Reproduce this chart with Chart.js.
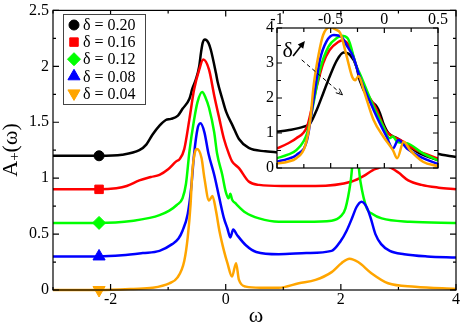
<!DOCTYPE html>
<html>
<head>
<meta charset="utf-8">
<script src="https://cdn.jsdelivr.net/npm/chart.js@4"></script>
<style>
body { margin: 0; background: #fff; }
#wrap { position: relative; width: 463px; height: 324px; }
#main { position: absolute; left: 0; top: 0; z-index: 1; }
#inset { position: absolute; left: 245px; top: 0; z-index: 2; }
</style>
</head>
<body>
<div id="wrap">
<canvas id="main" width="463" height="324"></canvas>
<canvas id="inset" width="218" height="180"></canvas>
</div>
<script>
// series labels (delta values)
const deltaLabels = ['δ = 0.20', 'δ = 0.16', 'δ = 0.12', 'δ = 0.08', 'δ = 0.04'];

// main panel, curves shifted by 0.3 each
const blackW = [-3, -2.2, -1.8, -1.5, -1.38, -1.27, -1.15, -1.04, -0.95, -0.83, -0.75, -0.63, -0.58, -0.52, -0.46, -0.43, -0.4, -0.36, -0.3, -0.26, -0.17, -0.14, -0.06, 0.01, 0.12, 0.23, 0.4, 0.69, 0.92, 1.5, 2.3, 2.8, 3.2, 3.66, 4];
const blackA = [1.2, 1.2, 1.21, 1.25, 1.30, 1.39, 1.47, 1.52, 1.53, 1.56, 1.62, 1.71, 1.8, 1.88, 2.0, 2.12, 2.21, 2.24, 2.21, 2.15, 1.94, 1.86, 1.71, 1.59, 1.47, 1.35, 1.27, 1.24, 1.23, 1.22, 1.25, 1.4, 1.3, 1.22, 1.19];

const redW = [-3, -2.2, -1.9, -1.72, -1.5, -1.3, -1.15, -1.0, -0.86, -0.8, -0.72, -0.63, -0.55, -0.46, -0.39, -0.29, -0.2, -0.11, -0.03, 0.06, 0.11, 0.23, 0.4, 0.58, 0.97, 1.56, 2.19, 2.4, 2.55, 2.65, 2.76, 2.88, 3.0, 3.17, 3.4, 3.7, 4];
const redA = [0.9, 0.9, 0.91, 0.93, 0.98, 1.01, 1.03, 1.08, 1.15, 1.17, 1.26, 1.53, 1.79, 1.97, 2.06, 1.97, 1.74, 1.53, 1.35, 1.21, 1.15, 1.09, 0.97, 0.94, 0.93, 0.93, 0.97, 1.02, 1.07, 1.09, 1.11, 1.09, 1.05, 0.98, 0.94, 0.915, 0.9];

const greenW = [-3, -2.2, -1.6, -1.32, -1.15, -0.98, -0.85, -0.75, -0.69, -0.63, -0.55, -0.49, -0.41, -0.35, -0.29, -0.2, -0.15, -0.06, 0.0, 0.05, 0.08, 0.11, 0.18, 0.35, 0.58, 0.92, 1.4, 1.84, 2.0, 2.08, 2.17, 2.25, 2.34, 2.45, 2.55, 2.71, 3.2, 4];
const greenA = [0.6, 0.6, 0.62, 0.645, 0.67, 0.71, 0.76, 0.82, 0.95, 1.24, 1.52, 1.68, 1.77, 1.72, 1.63, 1.41, 1.22, 1.03, 0.88, 0.82, 0.86, 0.81, 0.77, 0.69, 0.64, 0.61, 0.61, 0.62, 0.66, 0.73, 0.97, 1.33, 0.97, 0.73, 0.68, 0.64, 0.61, 0.6];

const blueW = [-3, -2.2, -1.8, -1.44, -1.15, -0.93, -0.82, -0.75, -0.66, -0.6, -0.55, -0.49, -0.44, -0.37, -0.3, -0.2, -0.11, -0.03, 0.03, 0.08, 0.13, 0.2, 0.35, 0.53, 0.92, 1.4, 1.84, 2.0, 2.1, 2.2, 2.27, 2.36, 2.45, 2.52, 2.6, 2.7, 2.85, 3.1, 3.5, 4];
const blueA = [0.3, 0.3, 0.31, 0.33, 0.35, 0.41, 0.46, 0.53, 0.68, 0.91, 1.21, 1.44, 1.49, 1.41, 1.22, 1.03, 0.82, 0.64, 0.55, 0.47, 0.54, 0.49, 0.40, 0.34, 0.32, 0.33, 0.35, 0.44, 0.53, 0.65, 0.74, 0.79, 0.74, 0.64, 0.5, 0.41, 0.35, 0.32, 0.3, 0.29];

const orangeW = [-3, -2.2, -1.6, -1.27, -0.98, -0.84, -0.72, -0.66, -0.61, -0.58, -0.54, -0.5, -0.42, -0.37, -0.29, -0.23, -0.17, -0.11, -0.03, 0.03, 0.11, 0.18, 0.23, 0.35, 0.6, 0.92, 1.27, 1.56, 1.84, 2.01, 2.15, 2.3, 2.53, 2.82, 3.29, 4];
const orangeA = [0, 0, 0.01, 0.02, 0.06, 0.11, 0.26, 0.47, 0.77, 1.06, 1.22, 1.26, 1.18, 1.0, 0.80, 0.84, 0.71, 0.53, 0.35, 0.24, 0.12, 0.24, 0.09, 0.03, 0.02, 0.02, 0.06, 0.09, 0.16, 0.24, 0.28, 0.25, 0.15, 0.06, 0.03, 0.01];

// inset, unshifted
const inBlackW = [-1.0, -0.9, -0.75, -0.69, -0.63, -0.57, -0.51, -0.44, -0.38, -0.32, -0.26, -0.23, -0.15, -0.07, -0.04, -0.01, 0.04, 0.12, 0.21, 0.33, 0.5];
const inBlackA = [1.04, 1.08, 1.18, 1.28, 1.66, 2.13, 2.61, 3.09, 3.3, 3.23, 2.9, 2.51, 1.99, 1.75, 1.56, 1.28, 0.99, 0.85, 0.66, 0.42, 0.22];

const inRedW = [-1.0, -0.9, -0.82, -0.72, -0.68, -0.63, -0.57, -0.51, -0.43, -0.39, -0.32, -0.26, -0.2, -0.07, -0.04, 0.02, 0.15, 0.3, 0.5];
const inRedA = [0.56, 0.7, 0.85, 1.18, 1.66, 2.32, 2.99, 3.37, 3.6, 3.65, 3.45, 2.9, 2.35, 1.66, 1.42, 1.04, 0.8, 0.51, 0.27];

const inGreenW = [-1.0, -0.9, -0.82, -0.72, -0.66, -0.6, -0.52, -0.44, -0.4, -0.34, -0.26, -0.23, -0.1, -0.01, 0.05, 0.08, 0.12, 0.21, 0.36, 0.5];
const inGreenA = [0.28, 0.38, 0.51, 0.99, 1.85, 2.8, 3.47, 3.72, 3.78, 3.7, 2.9, 2.71, 1.75, 1.18, 0.85, 0.9, 0.75, 0.71, 0.42, 0.22];

const inBlueW = [-1.0, -0.9, -0.82, -0.72, -0.66, -0.6, -0.54, -0.47, -0.4, -0.35, -0.29, -0.23, -0.1, 0.02, 0.08, 0.13, 0.21, 0.36, 0.5];
const inBlueA = [0.18, 0.26, 0.37, 0.8, 1.94, 3.09, 3.61, 3.8, 3.75, 3.5, 3.18, 2.61, 1.66, 0.9, 0.56, 0.8, 0.56, 0.28, 0.12];

const inOrangeW = [-1.0, -0.9, -0.82, -0.74, -0.69, -0.66, -0.61, -0.57, -0.51, -0.45, -0.41, -0.35, -0.3, -0.27, -0.24, -0.19, -0.1, -0.01, 0.08, 0.12, 0.18, 0.24, 0.36, 0.5];
const inOrangeA = [0.13, 0.18, 0.28, 0.61, 1.37, 2.32, 3.28, 3.8, 4.02, 3.95, 3.85, 3.18, 2.61, 2.51, 2.63, 2.2, 1.37, 0.9, 0.51, 0.28, 0.75, 0.51, 0.18, 0.05];

// tick labels
const mainXTicks = [-2, 0, 2, 4];
const mainYTicks = [0, 0.5, 1, 1.5, 2, 2.5];
const insetXTicks = [-1, -0.5, 0, 0.5];
const insetYTicks = [0, 1, 2, 3, 4];
const markW = -2.2; // where the symbol sits on each main curve

const colors = ['#000000', '#ff0000', '#00ff00', '#0000ff', '#ffa500'];
const pointStyles = ['circle', 'rect', 'rectRot', 'triangle', 'triangle'];
const rotations = [0, 0, 0, 0, 180];
const markR = [5, 6, 6.5, 7, 7];

const serif = "'Liberation Serif', 'Times New Roman', serif";
Chart.defaults.font.family = serif;
Chart.defaults.font.size = 16;
Chart.defaults.color = '#000';

const pts = (w, a) => w.map((v, i) => ({x: v, y: a[i]}));

// frame + inward ticks on all four sides
function makeFrame(xStep, yStep, major, minor, bg) {
  return {
    id: 'frame',
    beforeDatasetsDraw(chart) {
      if (!bg) return;
      const a = chart.chartArea, ctx = chart.ctx;
      ctx.save();
      ctx.fillStyle = bg;
      ctx.fillRect(a.left, a.top, a.right - a.left, a.bottom - a.top);
      ctx.restore();
    },
    afterDraw(chart) {
      const {ctx, chartArea: a, scales: {x, y}} = chart;
      const marks = (s, step) => {
        const mj = s.ticks.map(t => t.value), out = [];
        for (let v = Math.ceil(s.min / step - 1e-9) * step; v <= s.max + 1e-9; v += step) {
          const vv = Math.round(v * 1000) / 1000;
          out.push([vv, mj.some(m => Math.abs(m - vv) < 1e-6)]);
        }
        return out;
      };
      ctx.save();
      ctx.strokeStyle = '#000';
      ctx.lineWidth = 1.2;
      ctx.strokeRect(a.left, a.top, a.right - a.left, a.bottom - a.top);
      ctx.beginPath();
      marks(x, xStep).forEach(([v, maj]) => {
        const p = x.getPixelForValue(v), L = maj ? major : minor;
        ctx.moveTo(p, a.bottom); ctx.lineTo(p, a.bottom - L);
        ctx.moveTo(p, a.top); ctx.lineTo(p, a.top + L);
      });
      marks(y, yStep).forEach(([v, maj]) => {
        const p = y.getPixelForValue(v), L = maj ? major : minor;
        ctx.moveTo(a.left, p); ctx.lineTo(a.left + L, p);
        ctx.moveTo(a.right, p); ctx.lineTo(a.right - L, p);
      });
      ctx.stroke();
      ctx.restore();
    }
  };
}

// axis titles and the legend box of the main panel
const decor = {
  id: 'decor',
  afterDraw(chart) {
    const ctx = chart.ctx;
    ctx.save();
    ctx.fillStyle = '#000';
    // y title A+(w)
    ctx.translate(0, 150);
    ctx.rotate(-Math.PI / 2);
    ctx.textBaseline = 'alphabetic';
    ctx.font = '22px ' + serif;
    const wA = ctx.measureText('A').width, wR = ctx.measureText('(ω)').width;
    ctx.font = '15px ' + serif;
    const wP = ctx.measureText('+').width;
    let x0 = -(wA + wP + wR) / 2;
    ctx.font = '22px ' + serif;
    ctx.fillText('A', x0, 17);
    ctx.font = '15px ' + serif;
    ctx.fillText('+', x0 + wA, 19);
    ctx.font = '22px ' + serif;
    ctx.fillText('(ω)', x0 + wA + wP, 17);
    ctx.restore();

    ctx.save();
    ctx.fillStyle = '#000';
    ctx.font = '22px ' + serif;
    ctx.textAlign = 'center';
    ctx.textBaseline = 'alphabetic';
    ctx.fillText('ω', 256, 322);

    // legend
    ctx.fillStyle = '#fff';
    ctx.fillRect(63, 14, 82, 90);
    ctx.strokeStyle = '#444';
    ctx.lineWidth = 1;
    ctx.strokeRect(63.5, 14.5, 82, 90);
    ctx.textAlign = 'left';
    ctx.textBaseline = 'middle';
    ctx.font = '16px ' + serif;
    deltaLabels.forEach((lab, i) => {
      const yy = 25 + i * 17.1;
      ctx.fillStyle = colors[i];
      ctx.strokeStyle = colors[i];
      Chart.helpers.drawPoint(ctx, {pointStyle: pointStyles[i], radius: markR[i], rotation: rotations[i], borderWidth: 1}, 74, yy);
      ctx.fillStyle = '#000';
      ctx.fillText(lab, 83, yy + 1);
    });
    ctx.restore();
  }
};

// delta arrows inside the inset
function arrow(ctx, x1, y1, x2, y2, dashed) {
  const ang = Math.atan2(y2 - y1, x2 - x1);
  ctx.save();
  ctx.strokeStyle = '#000';
  ctx.fillStyle = '#000';
  ctx.lineWidth = dashed ? 1 : 1.6;
  if (dashed) ctx.setLineDash([4, 3]);
  ctx.beginPath();
  ctx.moveTo(x1, y1);
  ctx.lineTo(x2 - Math.cos(ang) * 3, y2 - Math.sin(ang) * 3);
  ctx.stroke();
  ctx.setLineDash([]);
  const h = dashed ? 7 : 8, s = dashed ? 0.4 : 0.45;
  ctx.beginPath();
  ctx.moveTo(x2, y2);
  ctx.lineTo(x2 - h * Math.cos(ang - s), y2 - h * Math.sin(ang - s));
  if (dashed) {
    ctx.moveTo(x2, y2);
    ctx.lineTo(x2 - h * Math.cos(ang + s), y2 - h * Math.sin(ang + s));
    ctx.stroke();
  } else {
    ctx.lineTo(x2 - h * Math.cos(ang + s), y2 - h * Math.sin(ang + s));
    ctx.closePath();
    ctx.fill();
  }
  ctx.restore();
}

const deltaNote = {
  id: 'deltaNote',
  afterDatasetsDraw(chart) {
    const {ctx, scales: {x, y}} = chart;
    ctx.save();
    ctx.fillStyle = '#000';
    ctx.font = '22px ' + serif;
    ctx.textAlign = 'center';
    ctx.textBaseline = 'middle';
    ctx.fillText('δ', x.getPixelForValue(-0.9), y.getPixelForValue(3.35));
    ctx.restore();
    arrow(ctx, x.getPixelForValue(-0.85), y.getPixelForValue(3.2), x.getPixelForValue(-0.74), y.getPixelForValue(3.63), false);
    arrow(ctx, x.getPixelForValue(-0.77), y.getPixelForValue(3.09), x.getPixelForValue(-0.39), y.getPixelForValue(2.09), true);
  }
};

const mainSets = [[blackW, blackA], [redW, redA], [greenW, greenA], [blueW, blueA], [orangeW, orangeA]];
const insetSets = [[inBlackW, inBlackA], [inRedW, inRedA], [inGreenW, inGreenA], [inBlueW, inBlueA], [inOrangeW, inOrangeA]];

const fixedTicks = list => s => { s.ticks = list.map(v => ({value: v})); };

new Chart(document.getElementById('main'), {
  type: 'line',
  data: {
    datasets: mainSets.map((s, i) => ({
      label: deltaLabels[i],
      data: pts(s[0], s[1]),
      borderColor: colors[i],
      backgroundColor: colors[i],
      borderWidth: 2.5,
      fill: false,
      cubicInterpolationMode: 'monotone',
      pointStyle: pointStyles[i],
      rotation: rotations[i],
      pointRadius: c => (c.raw && c.raw.x === markW) ? markR[i] : 0,
      pointBorderWidth: 1,
      pointBorderColor: colors[i],
      pointBackgroundColor: colors[i],
      order: 4 - i,
      clip: false
    }))
  },
  options: {
    responsive: false,
    animation: false,
    events: [],
    layout: {autoPadding: false, padding: {left: 0, right: 5, top: 7, bottom: 0}},
    plugins: {legend: {display: false}, tooltip: {enabled: false}},
    scales: {
      x: {
        type: 'linear', min: -3, max: 4,
        afterFit: s => { s.height = 34; },
        afterBuildTicks: fixedTicks(mainXTicks),
        grid: {display: false, drawTicks: false},
        border: {display: false},
        ticks: {padding: 3, maxRotation: 0, autoSkip: false, font: {lineHeight: 0.8}, callback: v => String(v)}
      },
      y: {
        type: 'linear', min: 0, max: 2.5,
        afterFit: s => { s.width = 53; },
        afterBuildTicks: fixedTicks(mainYTicks),
        grid: {display: false, drawTicks: false},
        border: {display: false},
        ticks: {padding: 4, autoSkip: false, font: {lineHeight: 0.8}, callback: v => String(v)}
      }
    }
  },
  plugins: [makeFrame(1, 0.25, 6, 3, null), decor]
});

new Chart(document.getElementById('inset'), {
  type: 'line',
  data: {
    datasets: insetSets.map((s, i) => ({
      label: deltaLabels[i],
      data: pts(s[0], s[1]),
      borderColor: colors[i],
      backgroundColor: colors[i],
      borderWidth: 2.5,
      fill: false,
      cubicInterpolationMode: 'monotone',
      pointRadius: 0,
      order: 4 - i
    }))
  },
  options: {
    responsive: false,
    animation: false,
    events: [],
    layout: {autoPadding: false, padding: {left: 0, right: 25, top: 0, bottom: 12}},
    plugins: {legend: {display: false}, tooltip: {enabled: false}},
    scales: {
      x: {
        type: 'linear', position: 'top', min: -1, max: 0.5,
        afterFit: s => { s.height = 28; },
        afterBuildTicks: fixedTicks(insetXTicks),
        grid: {display: false, drawTicks: false},
        border: {display: false},
        ticks: {padding: 2, maxRotation: 0, autoSkip: false, font: {lineHeight: 0.8}, callback: v => String(v)}
      },
      y: {
        type: 'linear', min: 0, max: 4,
        afterFit: s => { s.width = 32; },
        afterBuildTicks: fixedTicks(insetYTicks),
        grid: {display: false, drawTicks: false},
        border: {display: false},
        ticks: {padding: 3, autoSkip: false, font: {lineHeight: 0.8}, callback: v => String(v)}
      }
    }
  },
  plugins: [makeFrame(0.25, 0.5, 5, 4, '#fff'), deltaNote]
});
</script>
</body>
</html>
